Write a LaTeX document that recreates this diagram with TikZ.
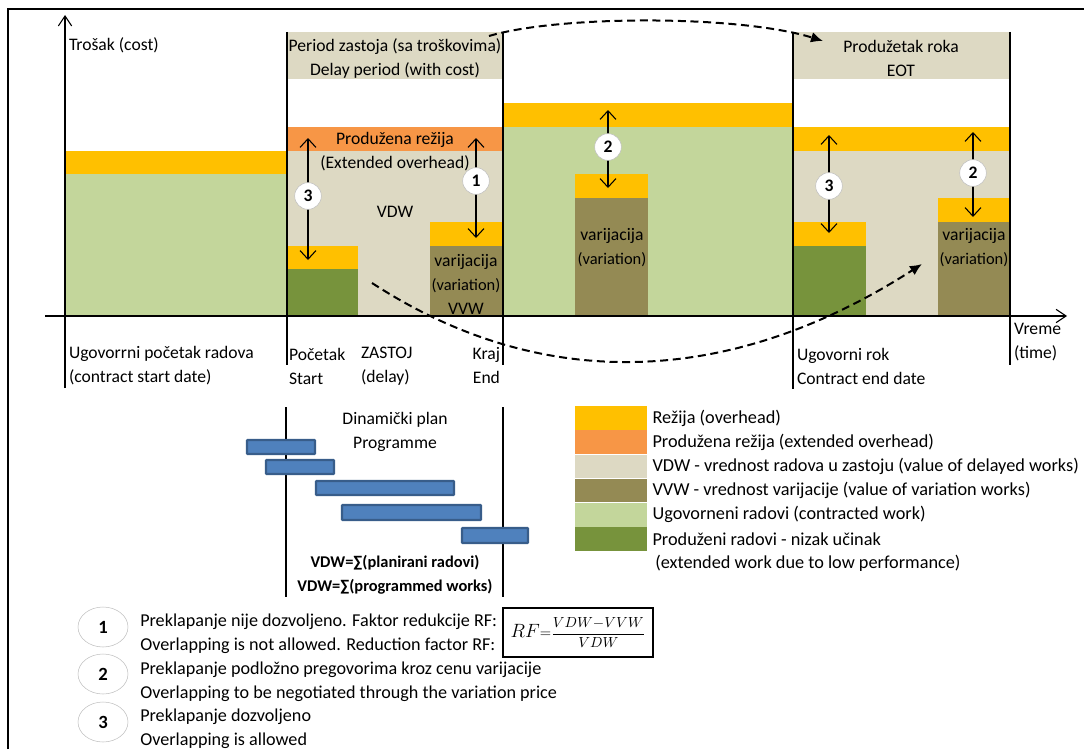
\documentclass[tikz,border=0pt]{standalone}
\usepackage{fontspec}
\setmainfont{Carlito}
\usepackage{tikz}
\usetikzlibrary{shapes.geometric, arrows.meta, positioning}
\tikzstyle{lbl} = [inner sep=0pt, outer sep=0pt]
\tikzstyle{timeline} = [line width=1.6pt]
\tikzstyle{axis} = [line width=0.8pt, -{Straight Barb[length=7.5pt,width=10pt]}]
\tikzstyle{dimarrow} = [line width=0.8pt, {Straight Barb[length=6.5pt,width=12pt]}-{Straight Barb[length=6.5pt,width=12pt]}]
\tikzstyle{dasharrow} = [line width=1.5pt, dash pattern=on 6pt off 3.5pt, -{Latex[length=9pt,width=8pt]}]
\tikzstyle{numball} = [circle, draw=black!25, fill=white, minimum size=20pt, inner sep=0pt, font=\bfseries]
\tikzstyle{noteball} = [ellipse, draw=black!25, minimum width=37.5pt, minimum height=30pt, inner sep=0pt, font=\bfseries\fontsize{14}{16}\selectfont]
\tikzstyle{bar} = [draw=barline, fill=barfill, line width=1.6pt, rounded corners=0.5pt]
\tikzstyle{swatch} = [rectangle, minimum width=54pt, minimum height=17.75pt, inner sep=0pt]
\tikzstyle{legtext} = [inner sep=0pt, font=\fontsize{13.7}{18}\selectfont]
\tikzstyle{notetext} = [inner sep=0pt, align=left, anchor=west, font=\fontsize{13.6}{18}\selectfont]
\definecolor{overhead}{RGB}{255,192,0}
\definecolor{extoverhead}{RGB}{247,150,70}
\definecolor{delayed}{RGB}{221,217,195}
\definecolor{variation}{RGB}{148,138,84}
\definecolor{contracted}{RGB}{195,214,155}
\definecolor{extended}{RGB}{119,147,60}
\definecolor{barfill}{RGB}{79,129,189}
\definecolor{barline}{RGB}{56,93,138}
\newcommand{\smalltxt}[1]{{\fontsize{12.3}{18}\selectfont #1}}

\begin{document}
\fontsize{13.2}{18}\selectfont
\begin{tikzpicture}[x=0.75pt, y=-0.75pt]
\useasboundingbox (0,0) rectangle (1084,749);
\draw[line width=1.5pt] (8,749) -- (8,9) -- (1084,9);

% contract period
\fill[contracted] (65,174) rectangle (287,316);
\fill[overhead] (65,151) rectangle (287,174);
% delay period
\fill[delayed] (287,32) rectangle (503,79);
\fill[delayed] (287,151) rectangle (503,316);
\fill[extoverhead] (287,127) rectangle (503,151);
\fill[overhead] (287,246) rectangle (358,269);
\fill[extended] (287,269) rectangle (358,316);
\fill[overhead] (430,222) rectangle (503,246);
\fill[variation] (430,246) rectangle (503,316);
% rest of contract
\fill[contracted] (503,127) rectangle (793,316);
\fill[overhead] (503,103) rectangle (793,127);
\fill[overhead] (575,174) rectangle (648,198);
\fill[variation] (575,198) rectangle (648,316);
% extension of time
\fill[delayed] (793,32) rectangle (1010,79);
\fill[delayed] (793,151) rectangle (1010,316);
\fill[overhead] (793,127) rectangle (1010,151);
\fill[overhead] (793,222) rectangle (866,246);
\fill[extended] (793,246) rectangle (866,316);
\fill[overhead] (938,198) rectangle (1010,222);
\fill[variation] (938,222) rectangle (1010,316);

\draw[axis] (65,388) -- (65,15);
\draw[axis] (45,316) -- (1067,316);
\draw[timeline] (287,32) -- (287,365);
\draw[timeline] (503,32) -- (503,365);
\draw[timeline] (793,32) -- (793,389);
\draw[timeline] (1010,32) -- (1010,365);

\node (cost) [lbl, anchor=west] at (69,45) {Trošak (cost)};
\node (delayhdr) [lbl, align=center] at (395,58) {Period zastoja (sa troškovima)\\Delay period (with cost)};
\node (eothdr) [lbl, align=center] at (901,58) {Produžetak roka\\EOT};
\node (extovh) [lbl, align=center] at (395,152) {Produžena režija\\(Extended overhead)};
\node (vdw) [lbl] at (395,212) {VDW};
\node (vardelay) [lbl, align=center] at (466,284) {varijacija\\\smalltxt{(variation)}\\VVW};
\node (varmid) [lbl, align=center] at (612,248) {varijacija\\\smalltxt{(variation)}};
\node (vareot) [lbl, align=center] at (974,248) {varijacija\\\smalltxt{(variation)}};
\node (cstart) [lbl, align=left, anchor=west] at (69,366) {Ugovorrni početak radova\\(contract start date)};
\node (start) [lbl, align=left, anchor=west] at (289,366) {Početak\\Start};
\node (delay) [lbl, align=left, anchor=west] at (361,366) {ZASTOJ\\(delay)};
\node (end) [lbl, align=right, anchor=east] at (500,366) {Kraj\\End};
\node (cend) [lbl, align=left, anchor=west] at (797,366) {Ugovorni rok\\Contract end date};
\node (time) [lbl, align=left, anchor=west] at (1014,342) {Vreme\\(time)};

% overlapping arrows
\coordinate (t3a) at (308,138); \coordinate (b3a) at (308,260);
\coordinate (t1) at (476,138); \coordinate (b1) at (476,238);
\coordinate (t2a) at (608,110); \coordinate (b2a) at (608,188);
\coordinate (t3b) at (829,135); \coordinate (b3b) at (829,233);
\coordinate (t2b) at (973,132); \coordinate (b2b) at (973,217);
\draw[dimarrow] (t3a) -- (b3a);
\draw[dimarrow] (t1) -- (b1);
\draw[dimarrow] (t2a) -- (b2a);
\draw[dimarrow] (t3b) -- (b3b);
\draw[dimarrow] (t2b) -- (b2b);
\node (n3a) [numball] at (308,196) {3};
\node (n1) [numball] at (476,181) {1};
\node (n2a) [numball] at (608,147) {2};
\node (n3b) [numball] at (829,186) {3};
\node (n2b) [numball] at (973,173) {2};

% shifted periods
\coordinate (delayout) at (489,36); \coordinate (eotin) at (823,41);
\coordinate (vdwout) at (372,283); \coordinate (eotvdw) at (922,264);
\draw[dasharrow] (delayout) .. controls (560,15) and (740,15) .. (eotin);
\draw[dasharrow] (vdwout) .. controls (552,400) and (742,380) .. (eotvdw);

% programme
\draw[timeline] (286,407) -- (286,597);
\draw[timeline] (503,407) -- (503,597);
\draw[bar] (247,440) rectangle (315,454);
\draw[bar] (266,460) rectangle (334,474);
\draw[bar] (316,481) rectangle (454,495);
\draw[bar] (342,505) rectangle (481,520);
\draw[bar] (462,528) rectangle (528,543);
\node (plan) [lbl, align=center] at (395,432) {Dinamički plan\\Programme};
\node (vdwsum) [lbl, align=center, font=\bfseries\fontsize{12.3}{18}\selectfont] at (395,575) {VDW=∑(planirani radovi)\\VDW=∑(programmed works)};

% legend
\node (sw1) [swatch, fill=overhead] at (611,418) {};
\node (sw2) [swatch, fill=extoverhead, below=0pt of sw1] {};
\node (sw3) [swatch, fill=delayed, below=0pt of sw2] {};
\node (sw4) [swatch, fill=variation, below=0pt of sw3] {};
\node (sw5) [swatch, fill=contracted, below=0pt of sw4] {};
\node (sw6) [swatch, fill=extended, below=0pt of sw5] {};
\node (lg1) [legtext, right=3.75pt of sw1] {Režija (overhead)};
\node (lg2) [legtext, right=3.75pt of sw2] {Produžena režija (extended overhead)};
\node (lg3) [legtext, right=3.75pt of sw3] {VDW - vrednost radova u zastoju (value of delayed works)};
\node (lg4) [legtext, right=3.75pt of sw4] {VVW - vrednost varijacije (value of variation works)};
\node (lg5) [legtext, right=3.75pt of sw5] {Ugovorneni radovi (contracted work)};
\node (lg6) [legtext, right=3.75pt of sw6] {Produženi radovi - nizak učinak};
\node (lg7) [legtext, anchor=west] at (655,563) {(extended work due to low performance)};

% notes
\node (e1) [noteball] at (103,627) {1};
\node (e2) [noteball] at (103,674) {2};
\node (e3) [noteball] at (103,722) {3};
\node (note1) [notetext] at (140,634) {Preklapanje nije dozvoljeno. Faktor redukcije RF:\\Overlapping is not allowed. Reduction factor RF:};
\node (note2) [notetext] at (140,682) {Preklapanje podložno pregovorima kroz cenu varijacije\\Overlapping to be negotiated through the variation price};
\node (note3) [notetext] at (140,728.5) {Preklapanje dozvoljeno\\Overlapping is allowed};
\node (rf) [draw, line width=1pt, minimum width=112.5pt, minimum height=36.75pt, inner sep=2pt, font=\fontsize{11}{13}\selectfont] at (578,632.5) {{\Large$RF$}${=}\displaystyle\frac{VDW{-}VVW}{VDW}$};
\end{tikzpicture}
\end{document}
